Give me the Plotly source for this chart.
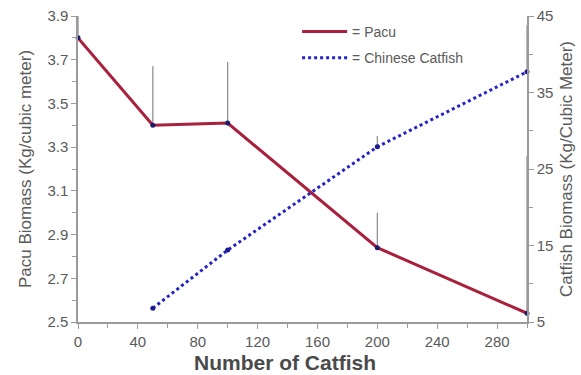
import plotly.graph_objects as go

catfish_number = [0, 50, 100, 200, 300]
pacu_biomass = [3.80, 3.40, 3.41, 2.84, 2.54]
pacu_err_up = [0.10, 0.27, 0.28, 0.16, 0.72]

catfish_x = [50, 100, 200, 300]
catfish_biomass = [6.8, 14.4, 27.9, 37.7]
catfish_err_up = [0.0, 0.0, 1.4, 6.1]

font = "Liberation Sans, Arial, sans-serif"
gray = "#5a5a5a"
pacu_color = "#a8203c"
cat_color = "#2323c8"

fig = go.Figure()
fig.add_trace(go.Scatter(
    x=catfish_number, y=pacu_biomass, name="= Pacu", mode="lines+markers",
    line=dict(color=pacu_color, width=3),
    marker=dict(color="#1a1a6e", size=5),
    error_y=dict(type="data", symmetric=False, array=pacu_err_up,
                 arrayminus=[0]*5, width=0, color="#8a8a8a", thickness=1.2),
    cliponaxis=False, showlegend=False,
))
fig.add_trace(go.Scatter(
    x=catfish_x, y=catfish_biomass, name="= Chinese Catfish", mode="lines+markers",
    yaxis="y2",
    line=dict(color=cat_color, width=3, dash="dot"),
    marker=dict(color="#1a1a8e", size=5),
    error_y=dict(type="data", symmetric=False, array=catfish_err_up,
                 arrayminus=[0]*4, width=0, color="#8a8a8a", thickness=1.2),
    cliponaxis=False, showlegend=False,
))
# legend-only entries (line samples without markers)
fig.add_trace(go.Scatter(x=[None], y=[None], name="= Pacu", mode="lines",
                         line=dict(color=pacu_color, width=3), legendgroup="a"))
fig.add_trace(go.Scatter(x=[None], y=[None], name="= Chinese Catfish", mode="lines",
                         line=dict(color=cat_color, width=3, dash="dot"), legendgroup="b"))

axis_common = dict(showgrid=False, zeroline=False, showline=True, linecolor="#9a9a9a",
                   linewidth=1.5, ticks="outside", ticklen=5, tickcolor="#9a9a9a",
                   automargin=False)

fig.update_layout(
    width=581, height=375,
    margin=dict(l=78, r=54, t=16, b=53),
    plot_bgcolor="white", paper_bgcolor="white",
    font=dict(family=font, color=gray),
    xaxis=dict(range=[0, 300], dtick=40, tick0=0,
               tickfont=dict(family=font, size=15, color=gray),
               minor=dict(dtick=20, ticks="outside", ticklen=4, tickcolor="#9a9a9a"),
               **axis_common),
    yaxis=dict(range=[2.5, 3.9], dtick=0.2, tick0=2.5, tickformat=".1f",
               tickfont=dict(family=font, size=15, color=gray),
               minor=dict(dtick=0.1, ticks="outside", ticklen=4, tickcolor="#9a9a9a"),
               title=dict(text="Pacu Biomass (Kg/cubic meter)", font=dict(size=17, color=gray), standoff=11),
               **axis_common),
    yaxis2=dict(range=[5, 45], dtick=10, tick0=5, overlaying="y", side="right",
                tickfont=dict(family=font, size=15, color=gray),
                minor=dict(dtick=5, ticks="outside", ticklen=4, tickcolor="#9a9a9a"),
                title=dict(text="Catfish Biomass (Kg/Cubic Meter)", font=dict(size=17, color=gray), standoff=8),
                **axis_common),
    legend=dict(x=0.488, y=1.0, xanchor="left", yanchor="top", bgcolor="rgba(0,0,0,0)",
                font=dict(family=font, size=14, color=gray), itemwidth=45,
                tracegroupgap=5),
    showlegend=True,
    annotations=[dict(text="<b>Number of Catfish</b>", xref="paper", yref="paper",
                      x=(285 - 78) / 449, y=-(362 - 322) / 306, xanchor="center", yanchor="middle",
                      showarrow=False, font=dict(family=font, size=21, color="#4a4a4a"))],
)

fig.write_html("out.html", config={"displayModeBar": False},
               post_script="document.body.style.margin='0px';")
